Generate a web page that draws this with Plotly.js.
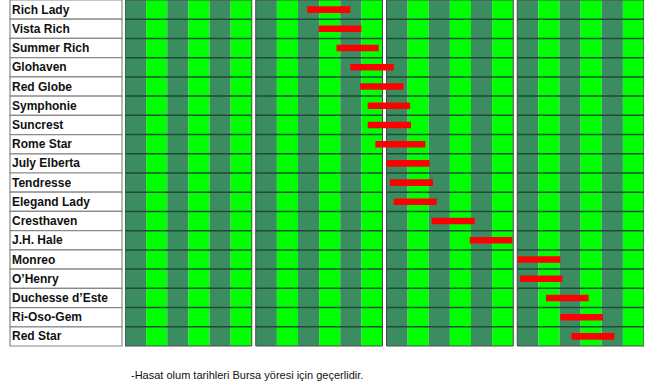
<!DOCTYPE html>
<html><head><meta charset="utf-8">
<script src="https://cdn.plot.ly/plotly-3.0.1.min.js"></script>
<style>html,body{margin:0;padding:0;background:#fff}#chart{width:650px;height:386px}</style>
</head><body><div id="chart"></div>
<script>
// Varieties (top to bottom)
const varieties = ['Rich Lady','Vista Rich','Summer Rich','Glohaven','Red Globe','Symphonie','Suncrest','Rome Star','July Elberta','Tendresse','Elegand Lady','Cresthaven','J.H. Hale','Monreo','O\u2019Henry','Duchesse d\u2019Este','Ri-Oso-Gem','Red Star'];
// Harvest period, in days counted from the start of the first month block (30-day blocks)
const startDay = [42.2, 44.9, 49.1, 52.4, 54.7, 56.5, 56.5, 58.3, 60.0, 60.8, 61.7, 70.7, 79.7, 90.1, 90.6, 96.8, 100.2, 102.8];
const endDay   = [52.4, 55.0, 59.1, 61.7, 64.0, 65.6, 65.8, 69.2, 70.2, 71.0, 71.9, 80.9, 89.8, 100.2, 100.7, 106.9, 110.3, 113.0];
const monthBlocks = 4;
const stripesPerBlock = 6;
const daysPerBlock = 30;
const footnote = '-Hasat olum tarihleri Bursa yöresi için geçerlidir.';

const GAP = 0.945; // white gap between blocks (axis units)
const DARK = '#3C8C62', BRIGHT = '#00FF00', LINE = '#1B4F31', RED = '#FF0000';
function pos(d){ const m = Math.min(monthBlocks-1, Math.floor(d/daysPerBlock)); return d + m*GAP; }
const xMax = monthBlocks*daysPerBlock + (monthBlocks-1)*GAP;
const n = varieties.length;
const W = 650;

const shapes = [];
const stripeW = daysPerBlock/stripesPerBlock;
for (let m=0;m<monthBlocks;m++){
  const b0 = m*(daysPerBlock+GAP);
  for (let s=0;s<stripesPerBlock;s++){
    shapes.push({type:'rect', layer:'below', xref:'x', yref:'paper', x0:b0+s*stripeW, x1:b0+(s+1)*stripeW, y0:0, y1:1,
      fillcolor: s%2===0?DARK:BRIGHT, line:{width:0}});
  }
  for (let i=1;i<n;i++){
    const yy = 1 - i/n;
    shapes.push({type:'line', layer:'below', xref:'x', yref:'paper', x0:b0, x1:b0+daysPerBlock, y0:yy, y1:yy, line:{color:LINE, width:1.5}});
  }
  shapes.push({type:'rect', layer:'below', xref:'x', yref:'paper', x0:b0, x1:b0+daysPerBlock, y0:0, y1:1, fillcolor:'rgba(0,0,0,0)', line:{color:'#4a4a4a', width:1}});
}
// label cells
for (let i=0;i<n;i++){
  shapes.push({type:'rect', layer:'below', xref:'paper', yref:'paper', x0:10/W, x1:122/W, y0:1-(i+1)/n, y1:1-i/n,
    fillcolor:'#ffffff', line:{color:'#8a8a8a', width:1.2}});
}

const annotations = varieties.map((v,i)=>({xref:'paper', yref:'paper', x:10/W, y:1-(i+0.5)/n, xanchor:'left', yanchor:'middle',
  text:'<b>'+v+'</b>', showarrow:false, font:{family:'Liberation Sans, Arial, sans-serif', size:12, color:'#111'}}));
annotations.push({xref:'paper', yref:'paper', x:129/W, y:-29/346, xanchor:'left', yanchor:'middle', text:footnote, showarrow:false,
  font:{family:'Liberation Sans, Arial, sans-serif', size:11, color:'#111'}});

const trace = {type:'bar', orientation:'h', y:varieties, base:startDay.map(pos), x:endDay.map((e,i)=>pos(e)-pos(startDay[i])),
  width:0.34, marker:{color:RED, line:{width:0}}, hoverinfo:'skip'};

const layout = {width:650, height:386, margin:{l:0,r:0,t:0,b:40,pad:0}, showlegend:false,
  paper_bgcolor:'#fff', plot_bgcolor:'#fff',
  xaxis:{domain:[125/W, 644/W], range:[0,xMax], visible:false, fixedrange:true},
  yaxis:{type:'category', categoryarray:varieties, range:[n-0.5,-0.5], visible:false, fixedrange:true},
  shapes, annotations};
Plotly.newPlot('chart',[trace],layout,{staticPlot:true, displayModeBar:false});
</script></body></html>
